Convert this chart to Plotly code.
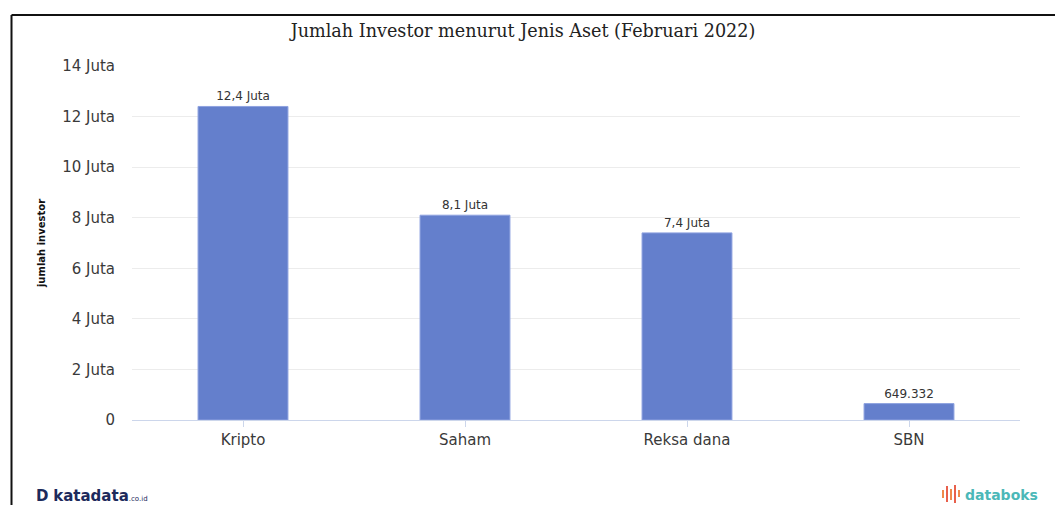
import plotly.graph_objects as go

categories = ["Kripto", "Saham", "Reksa dana", "SBN"]
values = [12400000, 8100000, 7400000, 649332]
labels = ["12,4 Juta", "8,1 Juta", "7,4 Juta", "649.332"]
tick_vals = [0, 2e6, 4e6, 6e6, 8e6, 10e6, 12e6, 14e6]
tick_text = ["0", "2 Juta", "4 Juta", "6 Juta", "8 Juta", "10 Juta", "12 Juta", "14 Juta"]

W, H = 1055, 505
L, R, T, B = 132, 35, 66, 85
pw, ph = W - L - R, H - T - B

def px(x):
    return (x - L) / pw

def py(y):
    return (H - B - y) / ph

fig = go.Figure()
fig.add_trace(go.Bar(
    x=categories, y=values, text=labels, textposition="outside",
    textfont=dict(family="DejaVu Sans", size=12, color="#333333"),
    marker=dict(color="#647fcc", line=dict(color="#8fa3e0", width=1)),
    cliponaxis=False, width=0.405,
))

fig.update_layout(
    width=W, height=H,
    margin=dict(l=L, r=R, t=T, b=B),
    paper_bgcolor="white", plot_bgcolor="white",
    showlegend=False,
    title=dict(text="Jumlah Investor menurut Jenis Aset (Februari 2022)",
               x=523 / W, xanchor="center", y=1 - 31 / H, yanchor="middle",
               font=dict(family="DejaVu Serif", size=17.6, color="#222222")),
    xaxis=dict(showgrid=False, showline=True, linecolor="#ccd6eb", linewidth=1,
               ticks="outside", ticklen=6, tickcolor="#ccd6eb",
               tickfont=dict(family="DejaVu Sans", size=15, color="#3a3a3a"),
               range=[-0.5, 3.5]),
    yaxis=dict(range=[0, 14e6], tickvals=tick_vals, ticktext=tick_text,
               showgrid=True, gridcolor="#ececec", gridwidth=1, zeroline=False,
               tickfont=dict(family="DejaVu Sans", size=15, color="#3a3a3a"),
               ticklabelstandoff=16,
               title=dict(text="<b>jumlah investor</b>", standoff=14,
                          font=dict(family="DejaVu Sans", size=10, color="#111111"))),
    bargap=0.6,
)

# frame lines
fig.add_shape(type="line", xref="paper", yref="paper",
              x0=px(11.5), x1=px(W + 2), y0=py(15), y1=py(15),
              line=dict(color="#111111", width=2))
fig.add_shape(type="line", xref="paper", yref="paper",
              x0=px(11.5), x1=px(11.5), y0=py(15), y1=py(H + 2),
              line=dict(color="#111111", width=2))

# footer logos
fig.add_annotation(xref="paper", yref="paper", x=px(34), y=py(496), xanchor="left", yanchor="middle",
                   text="<b>D</b> <b>katadata</b><span style='font-size:7px'>.co.id</span>",
                   showarrow=False, font=dict(family="DejaVu Sans", size=15, color="#1d2a5c"))
# databoks icon bars
icon_x = [943, 947, 951, 955, 959]
icon_h = [(490, 498), (486, 502), (489, 500), (485, 503), (490, 497)]
icon_c = ["#f08a4b", "#e8604c", "#f08a4b", "#e8604c", "#f08a4b"]
for xx, (y0, y1), c in zip(icon_x, icon_h, icon_c):
    fig.add_shape(type="line", xref="paper", yref="paper",
                  x0=px(xx), x1=px(xx), y0=py(y0), y1=py(y1),
                  line=dict(color=c, width=2))
fig.add_annotation(xref="paper", yref="paper", x=px(963), y=py(495), xanchor="left", yanchor="middle",
                   text="<b>databoks</b>", showarrow=False,
                   font=dict(family="DejaVu Sans", size=14, color="#4bb8b8"))

fig.write_html("out.html")
